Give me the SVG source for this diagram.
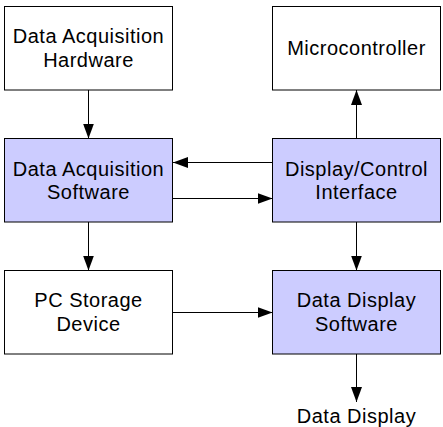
<svg xmlns="http://www.w3.org/2000/svg" width="443" height="427" viewBox="0 0 443 427">
<style>
.b{fill:#fff;stroke:#000;stroke-width:1}
.s{fill:#ccccff;stroke:#000;stroke-width:1}
.t{font-family:"Liberation Sans",Arial,sans-serif;font-size:20px;letter-spacing:0.5px;text-anchor:middle;fill:#000}
.c{stroke:#000;stroke-width:1;fill:none;marker-end:url(#ah)}
</style>
<defs>
<marker id="ah" markerUnits="userSpaceOnUse" markerWidth="16" markerHeight="12" refX="15" refY="5.5" orient="auto">
<path d="M0,0 L15,5.5 L0,11 Z" fill="#000"/>
</marker>
</defs>
<rect width="443" height="427" fill="#fff"/>
<g id="connectors">
<line class="c" x1="88.5" y1="90" x2="88.5" y2="138.5"/>
<line class="c" x1="88.5" y1="222" x2="88.5" y2="270.5"/>
<line class="c" x1="356.5" y1="138.5" x2="356.5" y2="90"/>
<line class="c" x1="356.5" y1="222" x2="356.5" y2="270.5"/>
<line class="c" x1="356.5" y1="354" x2="356.5" y2="402"/>
<line class="c" x1="272.5" y1="162.5" x2="173" y2="162.5"/>
<line class="c" x1="173" y1="198.5" x2="272.5" y2="198.5"/>
<line class="c" x1="172.5" y1="312.5" x2="272.5" y2="312.5"/>
</g>
<g id="daq-hw">
<rect class="b" x="4.5" y="6.5" width="168" height="83.5"/>
<text class="t" x="88.5" y="43">Data Acquisition</text>
<text class="t" x="88.5" y="66.5">Hardware</text>
</g>
<g id="mcu">
<rect class="b" x="272.5" y="6.5" width="168" height="83.5"/>
<text class="t" x="356.5" y="54.5">Microcontroller</text>
</g>
<g id="daq-sw">
<rect class="s" x="4.5" y="138.5" width="168" height="83.5"/>
<text class="t" x="88.5" y="175.5">Data Acquisition</text>
<text class="t" x="88.5" y="199">Software</text>
</g>
<g id="dci">
<rect class="s" x="272.5" y="138.5" width="168" height="83.5"/>
<text class="t" x="356.5" y="175.5">Display/Control</text>
<text class="t" x="356.5" y="199">Interface</text>
</g>
<g id="pc-storage">
<rect class="b" x="4.5" y="270.5" width="168" height="83.5"/>
<text class="t" x="88.5" y="307">PC Storage</text>
<text class="t" x="88.5" y="330.5">Device</text>
</g>
<g id="dds">
<rect class="s" x="272.5" y="270.5" width="168" height="83.5"/>
<text class="t" x="356.5" y="307">Data Display</text>
<text class="t" x="356.5" y="330.5">Software</text>
</g>
<g id="data-display">
<text class="t" x="356.5" y="422.5">Data Display</text>
</g>
</svg>
